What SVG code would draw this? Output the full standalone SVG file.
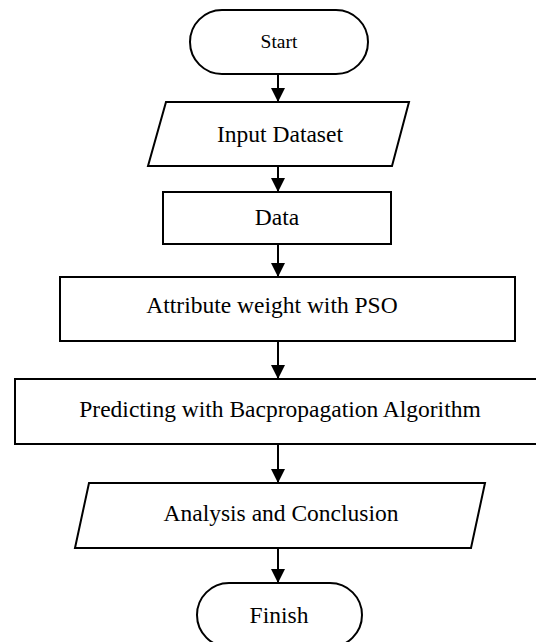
<svg xmlns="http://www.w3.org/2000/svg" width="536" height="642" viewBox="0 0 536 642">
<style>
.s{fill:#fff;stroke:#000;stroke-width:2}
.t{font-family:"Liberation Serif","Times New Roman",serif;font-size:23.5px;fill:#000;text-anchor:middle}
.c{stroke:#000;stroke-width:2;fill:none;marker-end:url(#ah)}
</style>
<defs>
<marker id="ah" markerUnits="userSpaceOnUse" markerWidth="16" markerHeight="16" refX="14" refY="7" orient="auto">
<path d="M0,0 L14,7 L0,14 Z" fill="#000"/>
</marker>
</defs>
<g id="start"><rect class="s" x="190" y="10" width="178" height="64" rx="32"/><text class="t" x="279" y="48" style="font-size:19.5px">Start</text></g>
<g id="input"><polygon class="s" points="166,102 409,102 392,166 148,166"/><text class="t" x="280" y="142">Input Dataset</text></g>
<g id="data"><rect class="s" x="163" y="192" width="228" height="52"/><text class="t" x="277" y="225">Data</text></g>
<g id="attr"><rect class="s" x="60" y="277" width="455" height="64"/><text class="t" x="272" y="313">Attribute weight with PSO</text></g>
<g id="predict"><rect class="s" x="15" y="379" width="530" height="65"/><text class="t" x="280" y="417">Predicting with Bacpropagation Algorithm</text></g>
<g id="analysis"><polygon class="s" points="89,483 485,483 471,548 75,548"/><text class="t" x="281" y="521">Analysis and Conclusion</text></g>
<g id="finish"><rect class="s" x="197" y="583" width="165" height="64" rx="32"/><text class="t" x="279" y="623">Finish</text></g>
<g id="connectors">
<line class="c" x1="278" y1="74" x2="278" y2="102"/>
<line class="c" x1="278" y1="166" x2="278" y2="192"/>
<line class="c" x1="278" y1="244" x2="278" y2="277"/>
<line class="c" x1="278" y1="341" x2="278" y2="379"/>
<line class="c" x1="278" y1="444" x2="278" y2="483"/>
<line class="c" x1="278" y1="548" x2="278" y2="583"/>
</g>
</svg>
